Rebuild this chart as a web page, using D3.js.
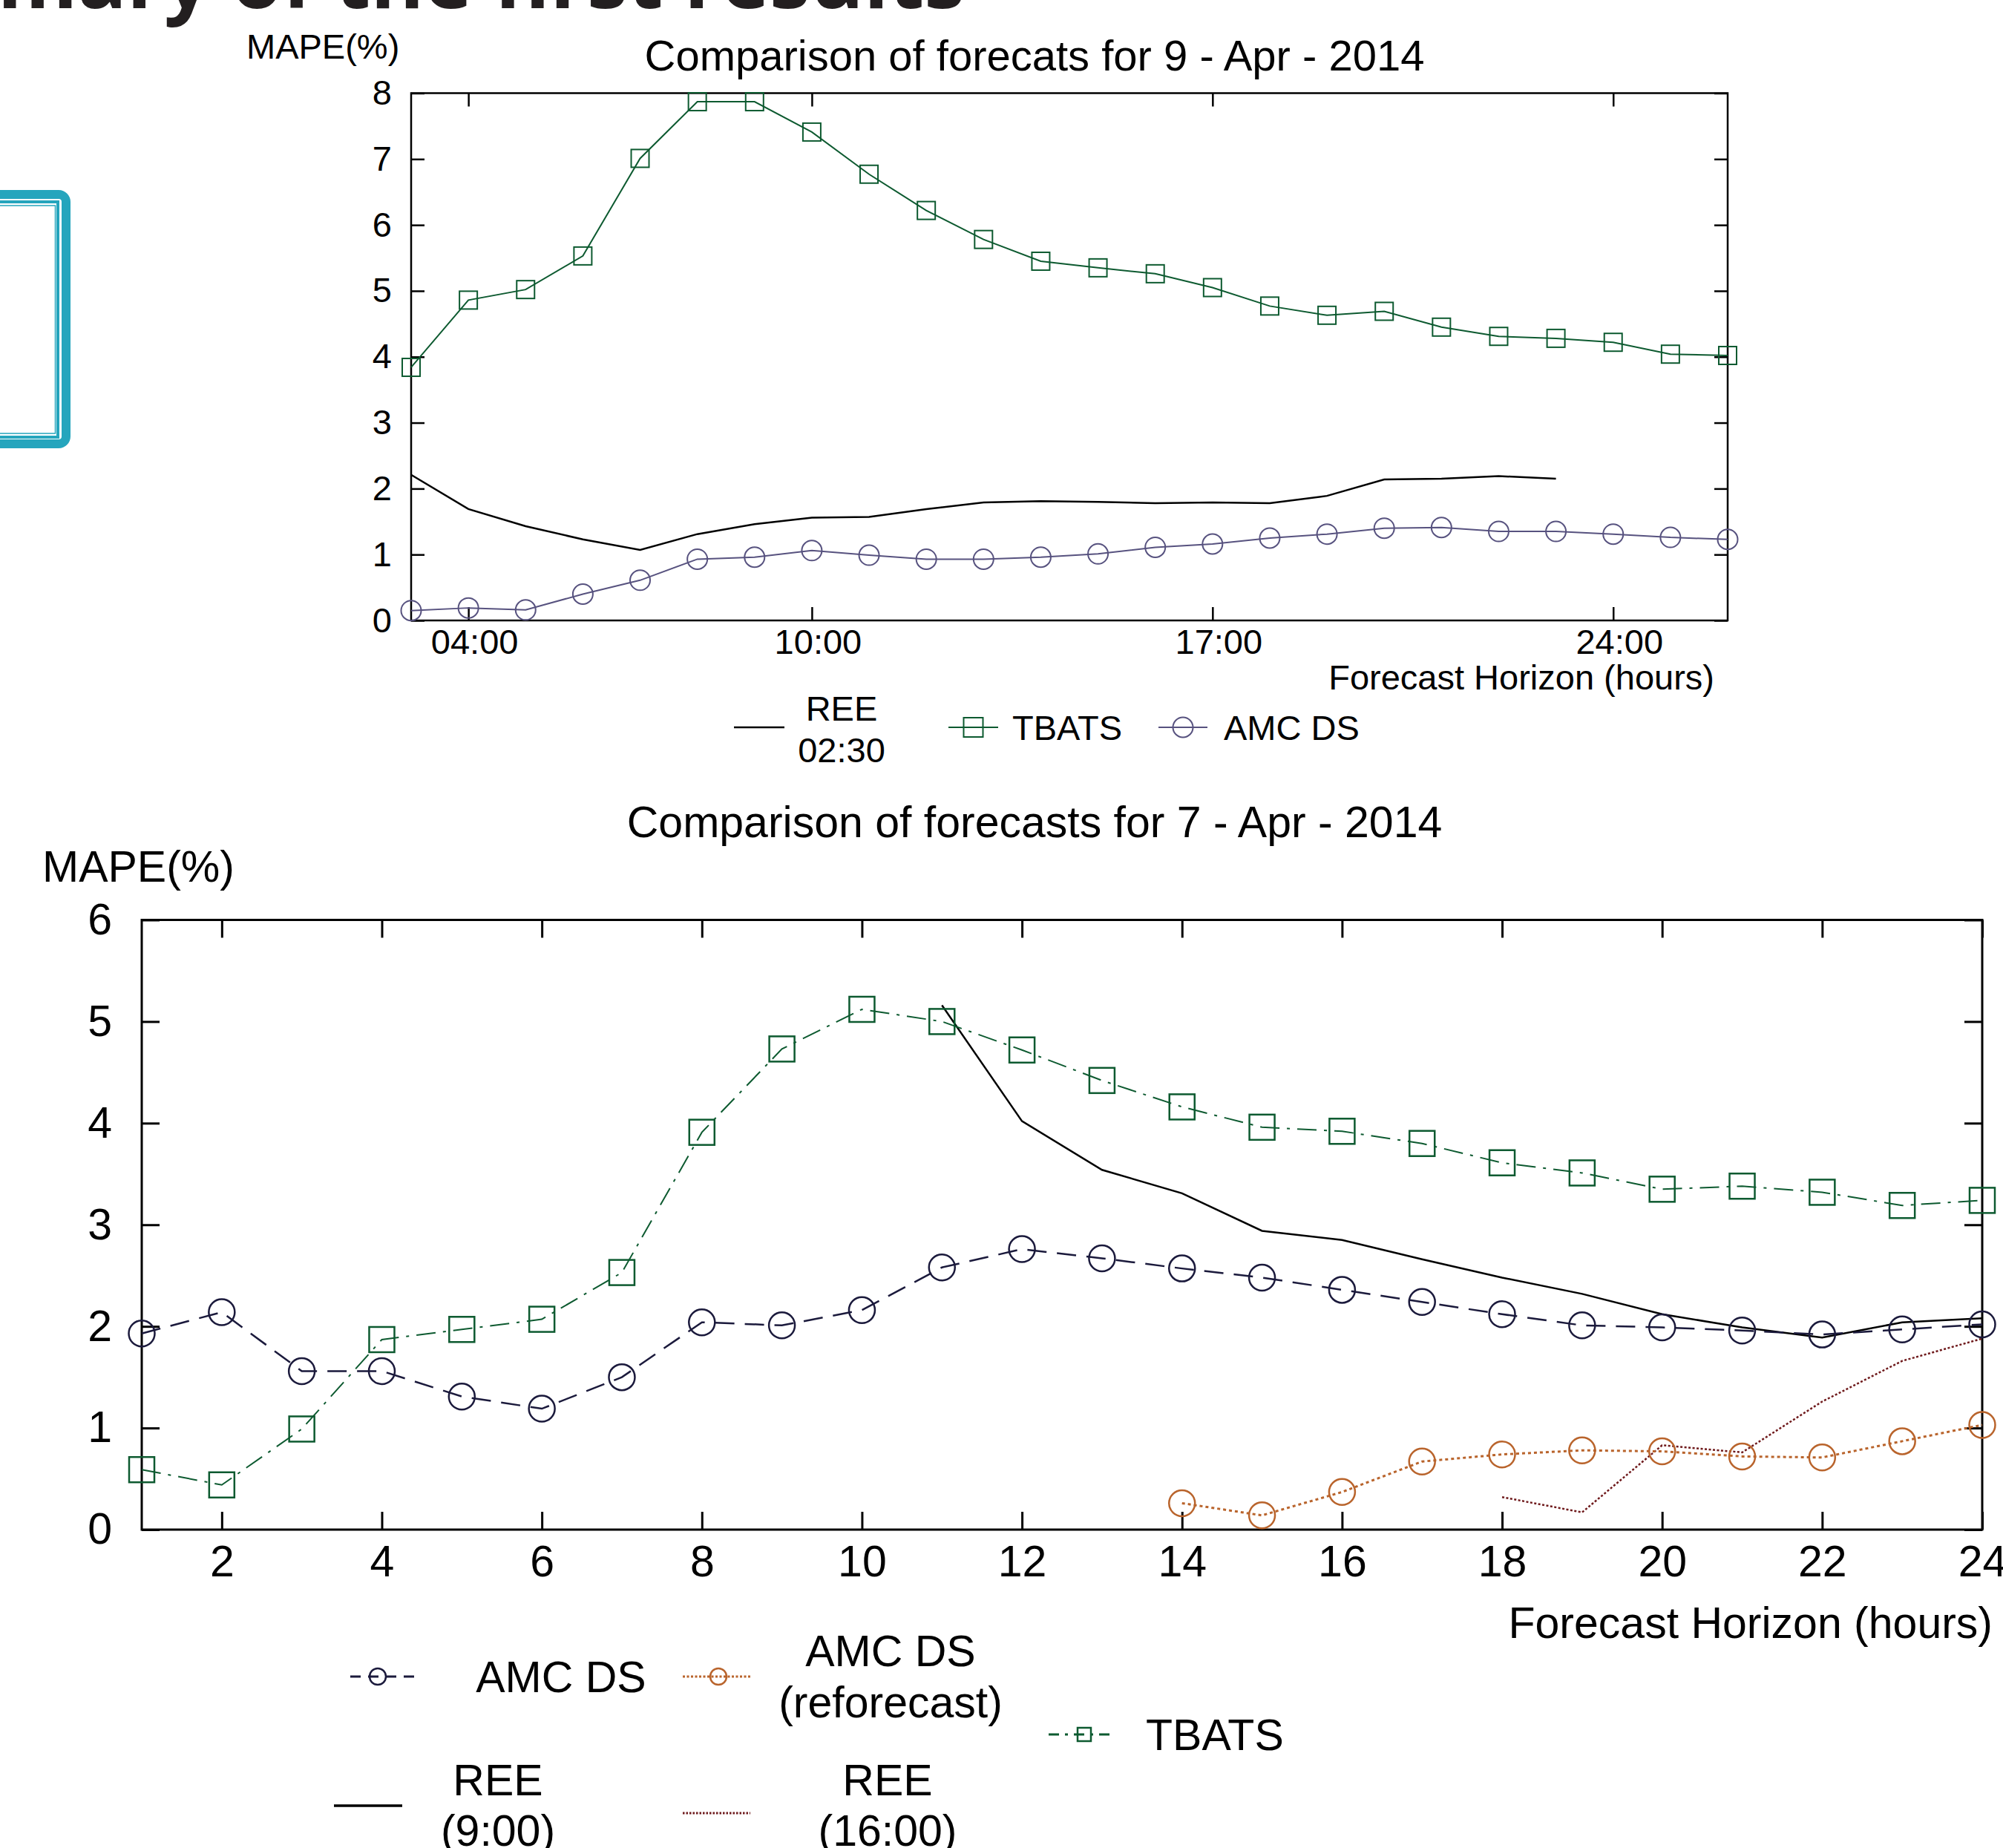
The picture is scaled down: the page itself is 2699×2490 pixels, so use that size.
<!DOCTYPE html>
<html>
<head>
<meta charset="utf-8">
<script src="https://cdn.jsdelivr.net/npm/d3@7"></script>
<style>
  body { margin: 0; background: #fff; }
  text { font-family: "Liberation Sans", Arial, sans-serif; fill: #000; }
</style>
</head>
<body>
<svg id="chart" width="2699" height="2490"></svg>
<script>
// top chart: 9 - Apr - 2014 (hourly horizon, 03:00 .. 26:00)
const topHours = [3,4,5,6,7,8,9,10,11,12,13,14,15,16,17,18,19,20,21,22,23,24,25,26];
const topTicks = [4,10,17,24];
const topTBATS = [3.84,4.86,5.02,5.53,7.01,7.87,7.87,7.41,6.77,6.22,5.78,5.45,5.35,5.26,5.05,4.77,4.63,4.69,4.45,4.31,4.28,4.22,4.04,4.02];
const topAMC   = [0.15,0.19,0.16,0.40,0.61,0.93,0.96,1.06,0.99,0.93,0.93,0.96,1.01,1.11,1.16,1.25,1.31,1.40,1.41,1.35,1.35,1.31,1.26,1.23];
const topREE   = [2.21,1.69,1.43,1.23,1.07,1.31,1.46,1.56,1.57,1.69,1.79,1.81,1.80,1.78,1.79,1.78,1.89,2.14,2.15,2.19,2.15];

// bottom chart: 7 - Apr - 2014
const botHours = [1,2,3,4,5,6,7,8,9,10,11,12,13,14,15,16,17,18,19,20,21,22,23,24];
const botTicks = [2,4,6,8,10,12,14,16,18,20,22,24];
const botTBATS = [0.59,0.44,0.99,1.87,1.97,2.07,2.53,3.91,4.73,5.12,5.00,4.72,4.42,4.16,3.96,3.92,3.80,3.61,3.51,3.35,3.38,3.32,3.19,3.24];
const botAMC   = [1.93,2.14,1.56,1.56,1.31,1.19,1.50,2.04,2.01,2.16,2.58,2.76,2.67,2.57,2.48,2.36,2.24,2.12,2.01,1.99,1.96,1.92,1.97,2.02];
const ree9Hours = [11,12,13,14,15,16,17,18,19,20,21,22,23,24];
const ree9      = [5.16,4.02,3.54,3.31,2.94,2.85,2.66,2.48,2.32,2.12,1.99,1.89,2.04,2.08];
const refHours  = [14,15,16,17,18,19,20,21,22,23,24];
const reforecast = [0.26,0.14,0.37,0.67,0.74,0.78,0.77,0.72,0.71,0.87,1.03];
const ree16Hours = [18,19,20,21,22,23,24];
const ree16      = [0.32,0.17,0.83,0.76,1.26,1.66,1.88];

const GREEN = "#0d5a30", NAVY = "#1b1a3c", PURPLE = "#57527f",
      ORANGE = "#b9642c", DARKRED = "#6f1a1c", TEAL = "#25a5bd";

const svg = d3.select("#chart");
svg.append("rect").attr("width", 2699).attr("height", 2490).attr("fill", "#fff");

// slide leftovers: cut title + teal frame
svg.append("text")
  .attr("x", 1300).attr("y", 11)
  .attr("text-anchor", "end")
  .style("font-family", "'Open Sans', sans-serif")
  .style("font-weight", "bold")
  .style("font-size", "110px")
  .style("fill", "#231f20")
  .text("Summary of the first results");

svg.append("rect").attr("x", -60).attr("y", 262).attr("width", 149).attr("height", 336)
  .attr("rx", 10).attr("fill", "none").attr("stroke", TEAL).attr("stroke-width", 12);
svg.append("rect").attr("x", -60).attr("y", 272).attr("width", 138).attr("height", 317)
  .attr("fill", "none").attr("stroke", TEAL).attr("stroke-width", 4);
svg.append("rect").attr("x", -60).attr("y", 277).attr("width", 134.5).attr("height", 307)
  .attr("fill", "none").attr("stroke", TEAL).attr("stroke-width", 1.5);

function drawFrame(g, x, y, opt) {
  const [x0, x1] = x.range(), [y0, y1] = y.range();
  const tl = opt.tick;
  g.append("g").attr("transform", `translate(0,${y0})`)
    .call(d3.axisBottom(x).tickValues(opt.xTicks).tickFormat(opt.xFormat)
      .tickSize(-tl).tickSizeOuter(0).tickPadding(opt.xPad))
    .call(a => a.selectAll("text").style("font-size", opt.font + "px").attr("dx", opt.xShift || 0));
  g.append("g").attr("transform", `translate(0,${y1})`)
    .call(d3.axisTop(x).tickValues(opt.xTicks).tickFormat("").tickSize(-tl).tickSizeOuter(0));
  g.append("g").attr("transform", `translate(${x0},0)`)
    .call(d3.axisLeft(y).ticks(opt.yMax).tickFormat(d3.format("d"))
      .tickSize(-tl).tickSizeOuter(0).tickPadding(opt.yPad))
    .call(a => a.selectAll("text").style("font-size", opt.font + "px"));
  g.append("g").attr("transform", `translate(${x1},0)`)
    .call(d3.axisRight(y).ticks(opt.yMax).tickFormat("").tickSize(-tl).tickSizeOuter(0));
  g.selectAll(".domain").remove();
  g.selectAll(".tick line").attr("stroke", "#000").attr("stroke-width", opt.lw);
  g.selectAll(".tick text").style("fill", "#000").style("font-family", "'Liberation Sans', Arial, sans-serif");
  g.append("rect").attr("x", x0).attr("y", y1).attr("width", x1 - x0).attr("height", y0 - y1)
    .attr("fill", "none").attr("stroke", "#000").attr("stroke-width", opt.lw);
}

function drawSeries(g, x, y, xs, ys, st) {
  const pts = ys.map((v, i) => [xs[i], v]);
  g.append("path").datum(pts)
    .attr("d", d3.line().x(d => x(d[0])).y(d => y(d[1])))
    .attr("fill", "none").attr("stroke", st.color).attr("stroke-width", st.width)
    .attr("stroke-dasharray", st.dash || null);
  if (st.marker === "square") {
    g.selectAll(null).data(pts).enter().append("rect")
      .attr("x", d => x(d[0]) - st.size / 2).attr("y", d => y(d[1]) - st.size / 2)
      .attr("width", st.size).attr("height", st.size)
      .attr("fill", "none").attr("stroke", st.color).attr("stroke-width", st.mw);
  } else if (st.marker === "circle") {
    g.selectAll(null).data(pts).enter().append("circle")
      .attr("cx", d => x(d[0])).attr("cy", d => y(d[1])).attr("r", st.size / 2)
      .attr("fill", "none").attr("stroke", st.color).attr("stroke-width", st.mw);
  }
}

function legendItem(g, x0, x1, yy, st, markerX) {
  g.append("line").attr("x1", x0).attr("x2", x1).attr("y1", yy).attr("y2", yy)
    .attr("stroke", st.color).attr("stroke-width", st.width).attr("stroke-dasharray", st.dash || null);
  const mx = markerX || (x0 + x1) / 2;
  if (st.marker === "square") {
    g.append("rect").attr("x", mx - st.lsize / 2).attr("y", yy - st.lsize / 2)
      .attr("width", st.lsize).attr("height", st.lsize)
      .attr("fill", "none").attr("stroke", st.color).attr("stroke-width", st.mw);
  } else if (st.marker === "circle") {
    g.append("circle").attr("cx", mx).attr("cy", yy).attr("r", st.lsize / 2)
      .attr("fill", "none").attr("stroke", st.color).attr("stroke-width", st.mw);
  }
}

function label(g, x, y, txt, size, anchor) {
  g.append("text").attr("x", x).attr("y", y).attr("text-anchor", anchor || "start")
    .style("font-size", size + "px").text(txt);
}

// ---------- top chart ----------
const gt = svg.append("g");
const xt = d3.scaleLinear().domain([3, 26]).range([554, 2328]);
const yt = d3.scaleLinear().domain([0, 8]).range([836, 125.5]);

drawFrame(gt, xt, yt, {
  xTicks: topTicks, xFormat: d => String(d).padStart(2, "0") + ":00",
  yMax: 8, tick: 18, xPad: 12, yPad: 26, font: 47, lw: 2.5, xShift: 8
});

const stTopREE = { color: "#000", width: 2.5 };
const stTopTBATS = { color: GREEN, width: 2, marker: "square", size: 24, lsize: 26, mw: 2 };
const stTopAMC = { color: PURPLE, width: 2, marker: "circle", size: 27, lsize: 27, mw: 2 };
drawSeries(gt, xt, yt, topHours.slice(0, topREE.length), topREE, stTopREE);
drawSeries(gt, xt, yt, topHours, topTBATS, stTopTBATS);
drawSeries(gt, xt, yt, topHours, topAMC, stTopAMC);

label(gt, 332, 79, "MAPE(%)", 47);
label(gt, 1394, 95, "Comparison of forecats for 9 - Apr - 2014", 58, "middle");
label(gt, 2310, 929, "Forecast Horizon (hours)", 47, "end");

legendItem(gt, 989, 1057, 980, stTopREE);
label(gt, 1134, 971, "REE", 47, "middle");
label(gt, 1134, 1027, "02:30", 47, "middle");
legendItem(gt, 1278, 1345, 980, stTopTBATS);
label(gt, 1364, 997, "TBATS", 47);
legendItem(gt, 1561, 1627, 980, stTopAMC);
label(gt, 1649, 997, "AMC DS", 47);

// ---------- bottom chart ----------
const gb = svg.append("g");
const xb = d3.scaleLinear().domain([1, 24]).range([191, 2671]);
const yb = d3.scaleLinear().domain([0, 6]).range([2061, 1239.5]);

drawFrame(gb, xb, yb, {
  xTicks: botTicks, xFormat: d3.format("d"),
  yMax: 6, tick: 24, xPad: 21, yPad: 40, font: 59, lw: 3
});

const stTBATS = { color: GREEN, width: 2, dash: "26,10,4,10", marker: "square", size: 34, lsize: 20, mw: 2.5 };
const stAMC = { color: NAVY, width: 2.5, dash: "26,14", marker: "circle", size: 35, lsize: 22, mw: 2.5 };
const stREE9 = { color: "#000", width: 2.5 };
const stRef = { color: ORANGE, width: 3, dash: "4,4", marker: "circle", size: 35, lsize: 22, mw: 2.5 };
const stREE16 = { color: DARKRED, width: 2.5, dash: "3,2.5" };

drawSeries(gb, xb, yb, ree9Hours, ree9, stREE9);
drawSeries(gb, xb, yb, ree16Hours, ree16, stREE16);
drawSeries(gb, xb, yb, refHours, reforecast, stRef);
drawSeries(gb, xb, yb, botHours, botAMC, stAMC);
drawSeries(gb, xb, yb, botHours, botTBATS, stTBATS);

label(gb, 57, 1188, "MAPE(%)", 59);
label(gb, 1394, 1128, "Comparison of forecasts for 7 - Apr - 2014", 59, "middle");
label(gb, 2685, 2207, "Forecast Horizon (hours)", 59, "end");

legendItem(gb, 472, 563, 2259, { color: NAVY, width: 3, dash: "14,10", marker: "circle", lsize: 22, mw: 2.5 }, 509);
label(gb, 756, 2280, "AMC DS", 59, "middle");
legendItem(gb, 920, 1011, 2259, { color: ORANGE, width: 3, dash: "3,2.5", marker: "circle", lsize: 22, mw: 2.5 }, 968);
label(gb, 1200, 2245, "AMC DS", 59, "middle");
label(gb, 1200, 2314, "(reforecast)", 59, "middle");
legendItem(gb, 1413, 1501, 2337, { color: GREEN, width: 3, dash: "14,8,4,8", marker: "square", lsize: 18, mw: 2.5 }, 1461);
label(gb, 1544, 2358, "TBATS", 59);
legendItem(gb, 450, 542, 2433, { color: "#000", width: 3.5 });
label(gb, 671, 2419, "REE", 59, "middle");
label(gb, 671, 2487, "(9:00)", 59, "middle");
legendItem(gb, 920, 1011, 2443, { color: DARKRED, width: 3, dash: "2.5,2" });
label(gb, 1196, 2419, "REE", 59, "middle");
label(gb, 1196, 2487, "(16:00)", 59, "middle");
</script>
</body>
</html>
